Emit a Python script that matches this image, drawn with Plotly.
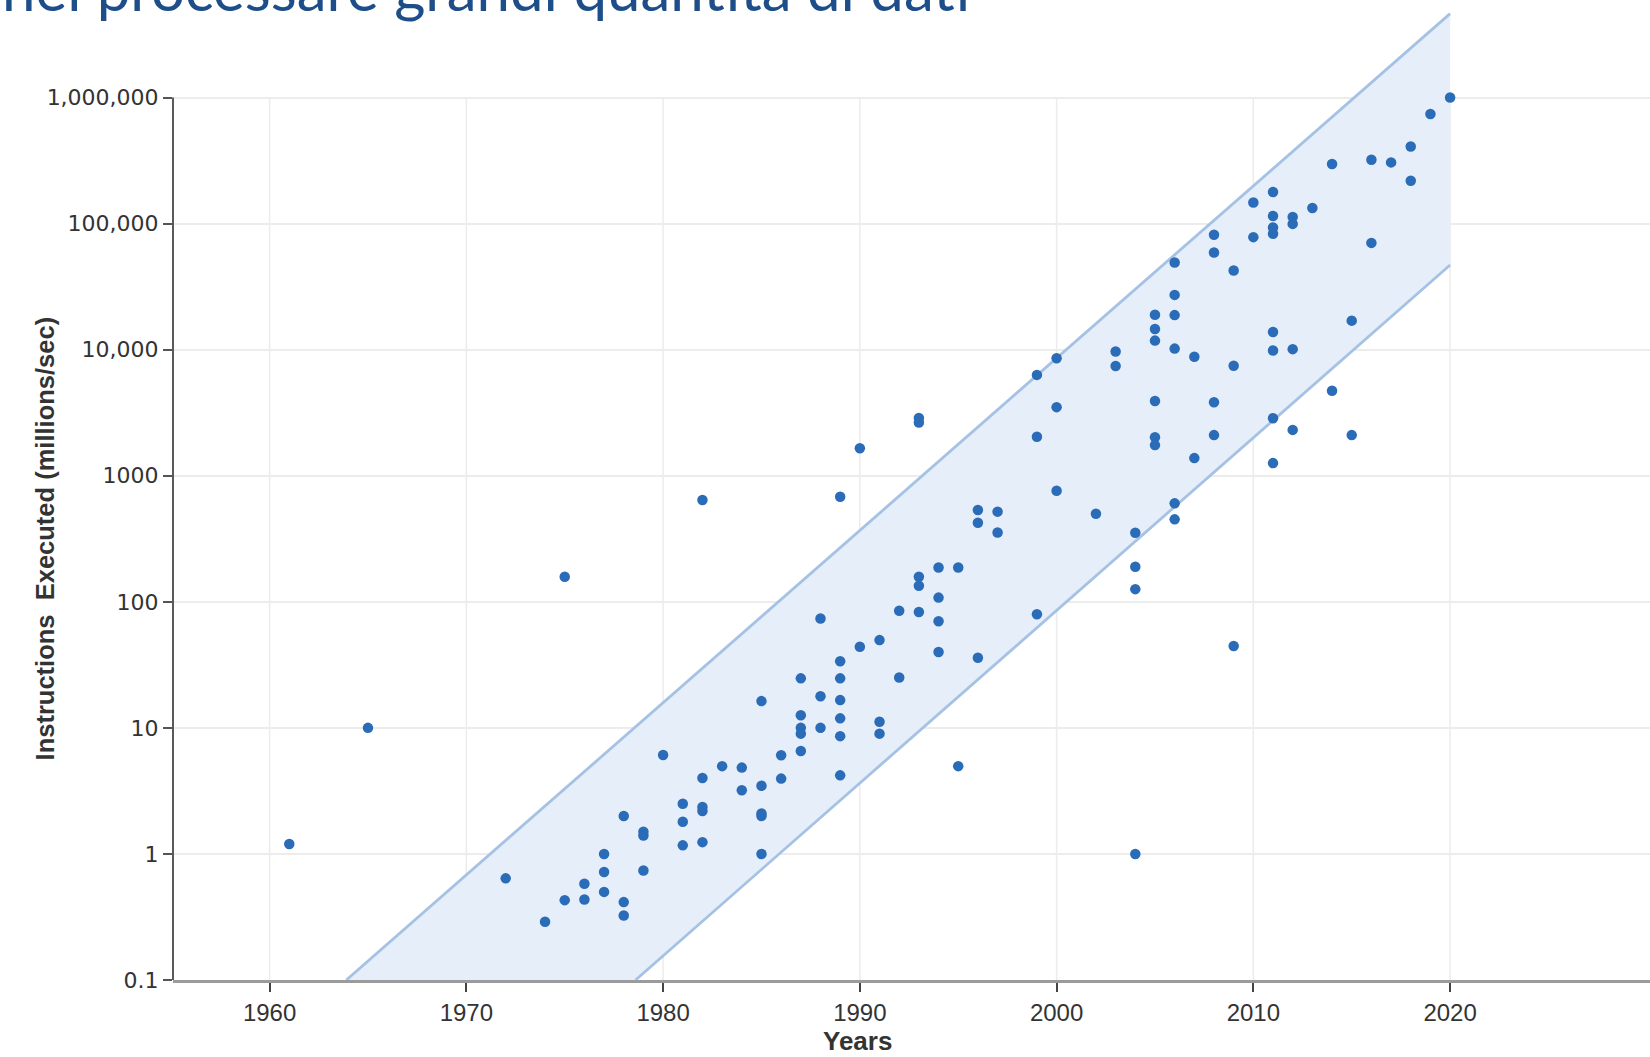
import plotly.graph_objects as go

# ---------------- data ----------------
years = [
    1961, 1965, 1972, 1974, 1975, 1975, 1976, 1976, 1977, 1977, 1977,
    1978, 1978, 1978, 1979, 1979, 1979, 1980, 1981, 1981, 1981,
    1982, 1982, 1982, 1982, 1982, 1983, 1984, 1984,
    1985, 1985, 1985, 1985, 1985, 1986, 1986,
    1987, 1987, 1987, 1987, 1987, 1988, 1988, 1988,
    1989, 1989, 1989, 1989, 1989, 1989, 1989,
    1990, 1990, 1991, 1991, 1991, 1992, 1992,
    1993, 1993, 1993, 1993, 1993, 1994, 1994, 1994, 1994,
    1995, 1995, 1996, 1996, 1996, 1997, 1997,
    1999, 1999, 1999, 2000, 2000, 2000, 2002, 2003, 2003,
    2004, 2004, 2004, 2004,
    2005, 2005, 2005, 2005, 2005, 2005,
    2006, 2006, 2006, 2006, 2006, 2006,
    2007, 2007, 2008, 2008, 2008, 2008, 2009, 2009, 2009,
    2010, 2010,
    2011, 2011, 2011, 2011, 2011, 2011, 2011, 2011,
    2012, 2012, 2012, 2012, 2013, 2014, 2014, 2015, 2015,
    2016, 2016, 2017, 2018, 2018, 2019, 2020,
]
mips = [
    1.2, 10, 0.64, 0.29, 158, 0.43, 0.58, 0.435, 1.0, 0.72, 0.50,
    2.0, 0.415, 0.325, 1.5, 1.4, 0.74, 6.1, 2.5, 1.8, 1.17,
    643, 4.0, 2.36, 2.19, 1.24, 4.97, 4.84, 3.2,
    16.3, 3.47, 2.09, 2.0, 1.0, 6.07, 3.96,
    24.7, 12.6, 10.0, 9.0, 6.56, 73.8, 17.8, 10.0,
    682, 33.8, 24.7, 16.6, 11.9, 8.6, 4.2,
    1650, 44, 49.7, 11.2, 9.0, 85, 25.1,
    2870, 2640, 158, 134, 83, 187, 108, 70, 40,
    187, 4.97, 535, 424, 36, 519, 355,
    6310, 2040, 79.6, 8550, 3500, 760, 500, 9660, 7430,
    353, 190, 126, 1.0,
    18900, 14600, 11800, 3920, 2020, 1750,
    49200, 27200, 18800, 10200, 604, 451,
    8800, 1380, 81500, 59000, 3830, 2100, 42500, 7450, 44.6,
    147000, 78100,
    178000, 115000, 93200, 83000, 13800, 9850, 2860, 1260,
    113000, 99500, 10100, 2310, 133000, 297000, 4730, 17000, 2100,
    321000, 70300, 306000, 409000, 219000, 741000, 1000000,
]

band_upper_years = [1963.9, 2020]
band_upper_vals = [0.1, 4.63e6]
band_lower_years = [1978.6, 2020]
band_lower_vals = [0.1, 4.7e4]

x_ticks = [1960, 1970, 1980, 1990, 2000, 2010, 2020]
y_ticks = [0.1, 1, 10, 100, 1000, 10000, 100000, 1000000]
y_ticktext = ["0.1", "1", "10", "100", "1000", "10,000", "100,000", "1,000,000"]

title_text = "nel processare grandi quantità di dati"
x_title = "Years"
y_title = "Instructions  Executed (millions/sec)"

# ---------------- figure ----------------
fig = go.Figure()

fig.add_trace(go.Scatter(
    x=band_upper_years + band_lower_years[::-1],
    y=band_upper_vals + band_lower_vals[::-1],
    fill="toself", fillcolor="#e5eef9", mode="lines",
    line=dict(width=0), hoverinfo="skip", showlegend=False))
for bx, by in [(band_upper_years, band_upper_vals), (band_lower_years, band_lower_vals)]:
    fig.add_trace(go.Scatter(x=bx, y=by, mode="lines",
                             line=dict(color="#a5c2e4", width=2.8),
                             hoverinfo="skip", showlegend=False))

fig.add_trace(go.Scatter(x=years, y=mips, mode="markers",
                         marker=dict(color="#2a6cb7", size=10.5),
                         showlegend=False))

# vertical grid lines only up to the top tick
for xv in x_ticks:
    fig.add_shape(type="line", xref="x", yref="y", x0=xv, x1=xv,
                  y0=y_ticks[0], y1=y_ticks[-1],
                  line=dict(color="#ececec", width=1.5), layer="below")
# y axis line from 0.1 to 1,000,000
fig.add_shape(type="line", xref="paper", yref="y", x0=0, x1=0,
              y0=y_ticks[0], y1=y_ticks[-1],
              line=dict(color="#5a5a5a", width=2))

fig.update_layout(
    width=1650, height=1057,
    margin=dict(l=172.6, r=0, t=3.4, b=77.3, autoexpand=False),
    plot_bgcolor="white", paper_bgcolor="white",
    xaxis=dict(range=[1955.09, 2030.16], showgrid=False, zeroline=False,
               showline=True, linecolor="#9b9b9b", linewidth=2.5,
               ticks="outside", ticklen=9, tickwidth=1.5, tickcolor="#444",
               tickvals=x_ticks,
               tickfont=dict(family="Liberation Sans Narrow, Arial Narrow, sans-serif",
                             size=24, color="#333")),
    yaxis=dict(type="log", range=[-1, 6.75], showgrid=True, gridcolor="#ececec",
               gridwidth=1.5, showline=False, zeroline=False,
               ticks="outside", ticklen=9, tickwidth=1.5, tickcolor="#555",
               tickvals=y_ticks, ticktext=y_ticktext,
               tickfont=dict(family="DejaVu Sans, sans-serif", size=22, color="#333")),
    annotations=[
        dict(text=title_text, xref="paper", yref="paper",
             x=-0.1168, y=0.9768, xanchor="left", yanchor="bottom",
             showarrow=False,
             font=dict(family="Lato, sans-serif", size=60, color="#1d4e89")),
        dict(text="<b>" + x_title + "</b>", xref="paper", yref="paper",
             x=0.4637, y=-0.0628, xanchor="center", yanchor="middle",
             showarrow=False,
             font=dict(family="Liberation Sans Narrow, Arial Narrow, sans-serif",
                       size=26, color="#333")),
        dict(text="<b>" + y_title + "</b>", xref="paper", yref="paper",
             x=-0.0864, y=0.4524, xanchor="center", yanchor="middle",
             textangle=-90, showarrow=False,
             font=dict(family="Liberation Sans Narrow, Arial Narrow, sans-serif",
                       size=25.5, color="#333")),
    ],
)

fig.write_html("out.html", config={"displayModeBar": False},
               post_script="document.body.style.margin='0';document.body.style.overflow='hidden';")
